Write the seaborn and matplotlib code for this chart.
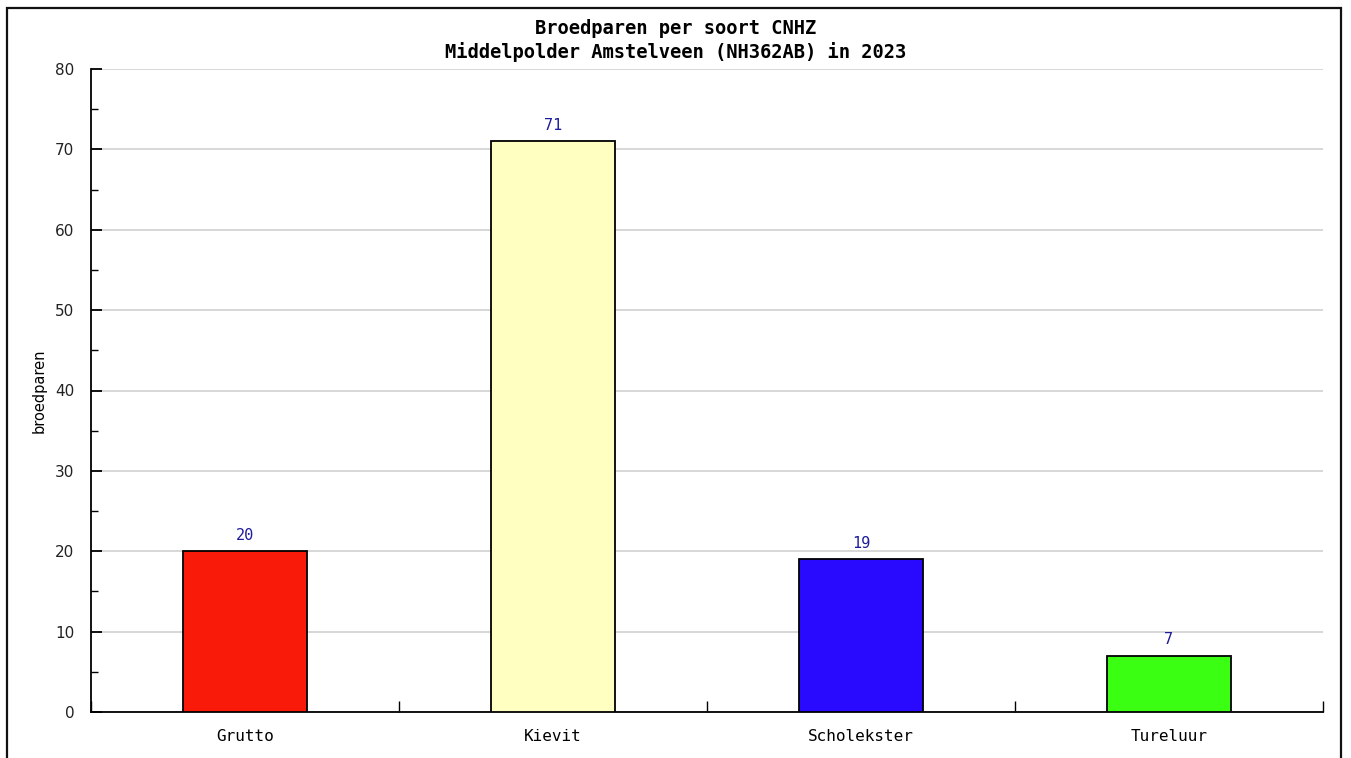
import pandas as pd
import seaborn as sns
import matplotlib.pyplot as plt
from matplotlib.patches import Rectangle
from matplotlib.ticker import MultipleLocator

soorten = ["Grutto", "Kievit", "Scholekster", "Tureluur"]
broedparen = [20, 71, 19, 7]
kleuren = ["#fa1a0a", "#ffffc2", "#2a0aff", "#3aff12"]

df = pd.DataFrame({"soort": soorten, "broedparen": broedparen})

sns.set_style("white")
plt.rcParams["font.family"] = ["DejaVu Sans"]
plt.rcParams["text.color"] = "black"
plt.rcParams["axes.labelcolor"] = "black"

fig = plt.figure(figsize=(13.51, 7.58), dpi=100)
ax = fig.add_axes([91 / 1351, 1 - 712 / 758, (1323 - 91) / 1351, (712 - 69) / 758])

sns.barplot(data=df, x="soort", y="broedparen", hue="soort", palette=kleuren, saturation=1,
            width=0.4, edgecolor="black", linewidth=1.3, legend=False, ax=ax, zorder=3)

for cont in ax.containers:
    ax.bar_label(cont, padding=6, color="#1c1c9c", fontsize=11, family="DejaVu Sans Mono")

ax.set_xlim(-0.5, len(soorten) - 0.5)
ax.set_ylim(0, 80)
ax.yaxis.set_major_locator(MultipleLocator(10))
ax.yaxis.set_minor_locator(MultipleLocator(5))
ax.set_xticks(range(len(soorten)))
ax.set_xticklabels(soorten, family="DejaVu Sans Mono", fontsize=11.5)
ax.set_xticks([i - 0.5 for i in range(len(soorten) + 1)], minor=True)
ax.tick_params(axis="x", which="major", bottom=True, length=0, pad=12, labelcolor="black")
ax.tick_params(axis="x", which="minor", bottom=True, direction="in", length=8, width=1, color="black")
ax.tick_params(axis="y", which="major", left=True, direction="in", length=8, width=1.3, color="black",
               pad=12, labelsize=11, labelcolor="#222222")
ax.tick_params(axis="y", which="minor", left=True, direction="in", length=5, width=1, color="black")
ax.yaxis.grid(True, which="major", color="#d4d4d4", linewidth=1.3, zorder=0)
ax.set_axisbelow(True)

for s in ["top", "right"]:
    ax.spines[s].set_visible(False)
for s in ["left", "bottom"]:
    ax.spines[s].set_color("black")
    ax.spines[s].set_linewidth(1.3)

ax.set_xlabel("")
ax.set_ylabel("broedparen", fontsize=10.5, labelpad=6)

fig.text(0.5, 1 - 28 / 758, "Broedparen per soort CNHZ", ha="center", va="center",
         family="DejaVu Sans Mono", fontweight="bold", fontsize=13.5, color="black")
fig.text(0.5, 1 - 52 / 758, "Middelpolder Amstelveen (NH362AB) in 2023", ha="center", va="center",
         family="DejaVu Sans Mono", fontweight="bold", fontsize=13.5, color="black")

fig.patches.append(Rectangle((7 / 1351, -0.05), (1341 - 7) / 1351, 1.05 - 8 / 758,
                             transform=fig.transFigure, fill=False, edgecolor="#111111", linewidth=1.6))

fig.savefig("out.png", dpi=100)
